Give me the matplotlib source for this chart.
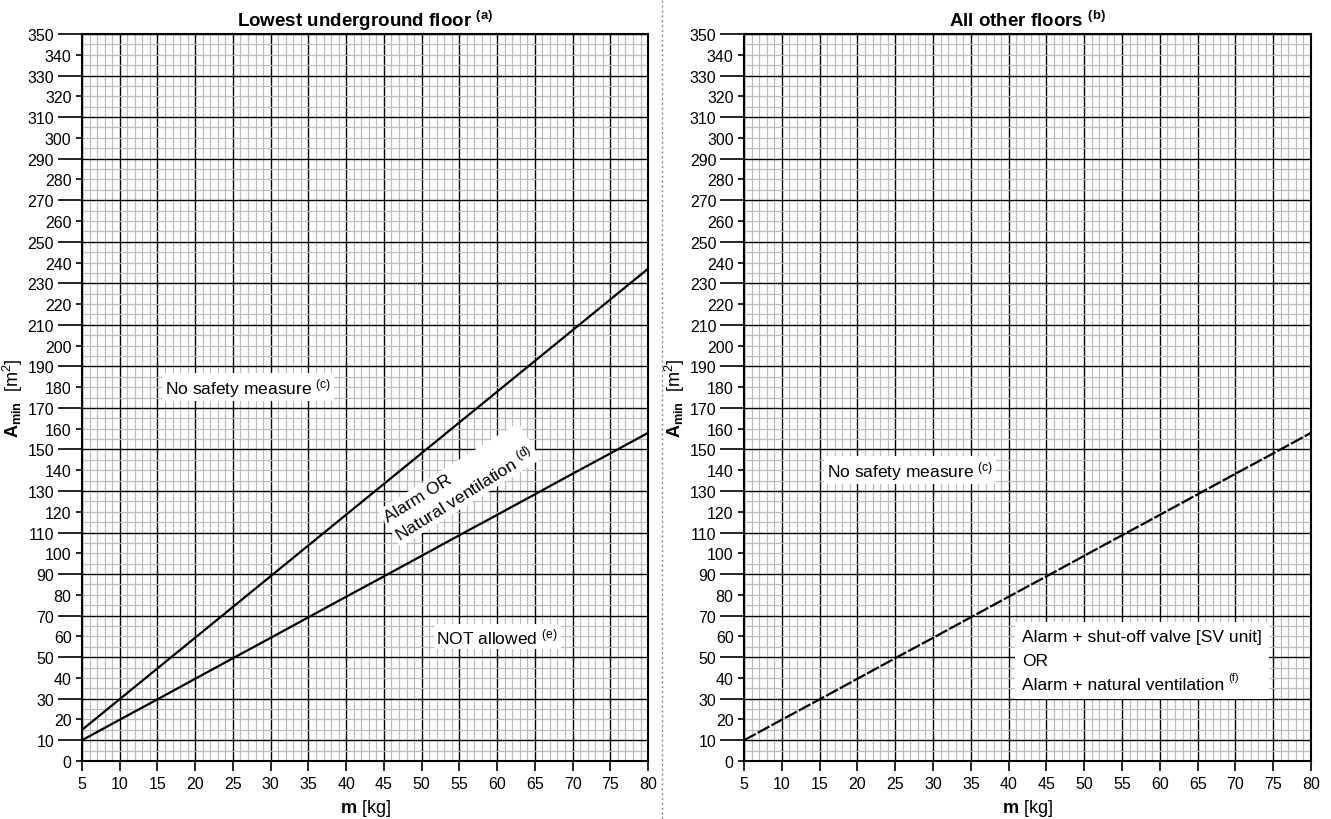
import matplotlib
matplotlib.use('Agg')
import matplotlib.pyplot as plt
import numpy as np
from matplotlib import font_manager
from matplotlib.lines import Line2D

# pick a condensed sans if we have one
names = {f.name for f in font_manager.fontManager.ttflist}
narrow = 'Liberation Sans Narrow' if 'Liberation Sans Narrow' in names else 'Liberation Sans'

plt.rcParams['font.family'] = [narrow, 'DejaVu Sans']
plt.rcParams['mathtext.fontset'] = 'custom'
plt.rcParams['mathtext.rm'] = narrow
plt.rcParams['mathtext.it'] = narrow + ':italic'
plt.rcParams['mathtext.bf'] = 'Liberation Sans:bold'

# refrigerant charge m [kg] vs minimum floor area A_min [m2]
m_kg = [5, 10, 15, 20, 25, 30, 35, 40, 45, 50, 55, 60, 65, 70, 75, 80]
amin_lowest_alarm = [15, 29.8, 44.6, 59.4, 74.2, 89, 103.8, 118.6, 133.4, 148.2, 163, 177.8, 192.6, 207.4, 222.2, 237]
amin_lowest_min = [10, 19.9, 29.7, 39.6, 49.5, 59.3, 69.2, 79.1, 88.9, 98.8, 108.7, 118.5, 128.4, 138.3, 148.1, 158]
amin_other = [10, 19.9, 29.7, 39.6, 49.5, 59.3, 69.2, 79.1, 88.9, 98.8, 108.7, 118.5, 128.4, 138.3, 148.1, 158]

titles = [r'Lowest underground floor $^{\mathbf{(a)}}$', r'All other floors $^{\mathbf{(b)}}$']
x_ticks = [5, 10, 15, 20, 25, 30, 35, 40, 45, 50, 55, 60, 65, 70, 75, 80]

fig = plt.figure(figsize=(13.31, 8.2), dpi=100)
ax1 = fig.add_axes([0.0616, 0.0707, 0.4253, 0.8866])
ax2 = fig.add_axes([0.559, 0.0707, 0.426, 0.8866])


def setup(ax, title):
    ax.set_xlim(5, 80)
    ax.set_ylim(0, 350)
    # graph paper grid
    for x in np.arange(5, 81, 1):
        major = x % 5 == 0
        ax.axvline(x, color='black' if major else '#bcbcbc', lw=1.0 if major else 0.9, zorder=0)
    for y in np.arange(0, 351, 5):
        major = y % 20 == 10
        ax.axhline(y, color='black' if major else '#bcbcbc', lw=1.0 if major else 0.9, zorder=0)
    ax.set_xticks(x_ticks)
    ax.set_yticks(np.arange(10, 351, 20))
    ax.set_yticks(np.arange(0, 351, 20), minor=True)
    ax.yaxis.set_minor_formatter(matplotlib.ticker.ScalarFormatter())
    ax.tick_params(axis='y', which='major', length=17, width=1.2, pad=3, labelsize=11.5)
    ax.tick_params(axis='y', which='minor', length=4.5, width=1.2, pad=3, labelsize=11.5)
    ax.tick_params(axis='x', length=7, width=1.2, pad=4, labelsize=11.5)
    for s in ax.spines.values():
        s.set_linewidth(1.5)
    ax.set_title(title, fontsize=13.5, fontweight='bold', family='Liberation Sans', pad=6)
    ax.set_xlabel(r'$\mathbf{m}$ [kg]', fontsize=13, labelpad=4)
    ax.set_ylabel(r'$\mathbf{A}_{\mathbf{min}}$  [m$^2$]', fontsize=13)
    ax.yaxis.set_label_coords(-0.1, 0.5)


setup(ax1, titles[0])
setup(ax2, titles[1])

box = dict(facecolor='white', edgecolor='none', pad=2)

ax1.plot(m_kg, amin_lowest_alarm, color='black', lw=1.6, zorder=3)
ax1.plot(m_kg, amin_lowest_min, color='black', lw=1.6, zorder=3)
ax1.text(27, 180, r'No safety measure $^{\mathrm{(c)}}$', fontsize=12.5, ha='center', va='center', bbox=box, zorder=4)
ax1.text(55, 133, 'Alarm OR\n' + r'Natural ventilation $^{\mathrm{(d)}}$', fontsize=12.5, ha='center', va='center',
         rotation=32, rotation_mode='anchor', multialignment='left', linespacing=1.15, bbox=box, zorder=4)
ax1.text(60, 60, r'NOT allowed $^{\mathrm{(e)}}$', fontsize=12.5, ha='center', va='center', bbox=box, zorder=4)

ax2.plot(m_kg, amin_other, color='black', lw=1.6, linestyle=(0, (6, 1)), zorder=3)
ax2.text(27, 140, r'No safety measure $^{\mathrm{(c)}}$', fontsize=12.5, ha='center', va='center', bbox=box, zorder=4)

# three-line note in one white box; the footnote mark goes after the last line
note_lines = ['Alarm + shut-off valve [SV unit]', 'OR', 'Alarm + natural ventilation']
note_kw = dict(fontsize=12.5, ha='left', va='center', linespacing=1.75, zorder=4)
ax2.text(41.8, 48.5, '\n'.join(note_lines), bbox=dict(facecolor='white', edgecolor='none', pad=5), **note_kw)
renderer = fig.canvas.get_renderer()
tmp = ax2.text(41.8, 48.5, '\n\n' + note_lines[2], **note_kw)
bb = tmp.get_window_extent(renderer)
tmp.remove()
ax2.annotate('(f)', xy=(bb.x1, bb.y0), xycoords='figure pixels', xytext=(3, 7), textcoords='offset points',
             fontsize=8, ha='left', va='bottom', zorder=5)

# dotted separator between panels
fig.add_artist(Line2D([0.4975, 0.4975], [0.0, 1.0], transform=fig.transFigure,
                      color='#888888', lw=1.0, linestyle=(0, (1.5, 2))))

fig.savefig('out.png', dpi=100)
